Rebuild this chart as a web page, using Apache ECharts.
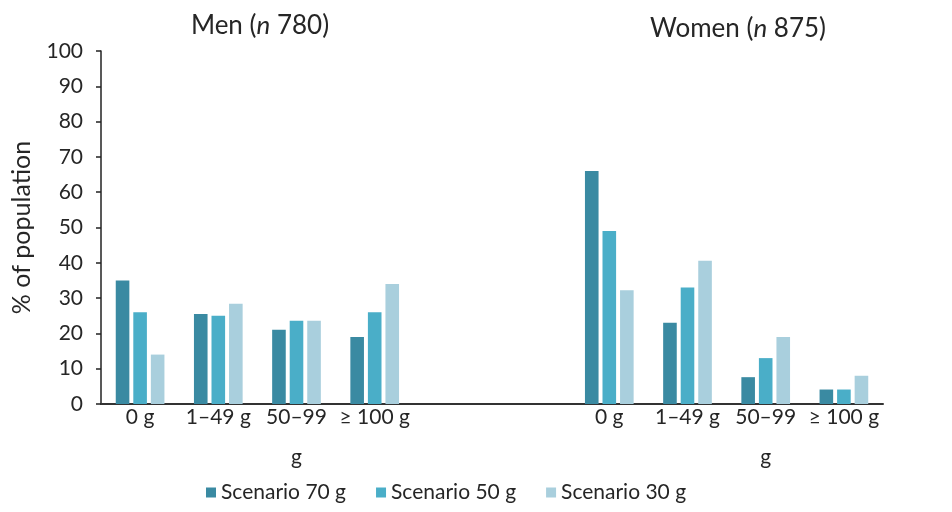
<!DOCTYPE html>
<html><head><meta charset="utf-8">
<script src="https://cdn.jsdelivr.net/npm/echarts@6/dist/echarts.min.js"></script>
<style>html,body{margin:0;padding:0;background:#fff}#c{width:952px;height:512px}</style>
</head><body><div id="c"></div>
<script>
var categories = ['0 g', '1–49 g', '50–99 g', '≥ 100 g', ' ', '  ', '0 g', '1–49 g', '50–99 g', '≥ 100 g'];
var seriesNames = ['Scenario 70 g', 'Scenario 50 g', 'Scenario 30 g'];
var scenario70 = [35, 25.5, 21, 19, null, null, 66, 23, 7.6, 4.1];
var scenario50 = [26, 25, 23.6, 26, null, null, 49, 33, 13, 4.1];
var scenario30 = [14, 28.4, 23.6, 34, null, null, 32.2, 40.6, 19, 8];
var yTicks = [0, 10, 20, 30, 40, 50, 60, 70, 80, 90, 100];
var groupTitles = ['Men', 'Women'];
var groupN = ['780', '875'];

var colors = ['#3a8aa2', '#4aaec8', '#a9cfdd'];
var font = 'Lato';
var txt = '#262626';
var chart = echarts.init(document.getElementById('c'));
var values = [scenario70, scenario50, scenario30];
function titleStyle() {
  return {fontSize: 26, fontWeight: 'normal', color: txt, fontFamily: font,
    rich: {i: {fontStyle: 'italic', fontSize: 26, color: txt, fontFamily: font}}};
}
chart.setOption({
  animation: false,
  color: colors,
  textStyle: {fontFamily: font},
  title: [
    {text: groupTitles[0] + ' ({i|n} ' + groupN[0] + ')', left: 255, top: 8, textAlign: 'center', textStyle: titleStyle()},
    {text: groupTitles[1] + ' ({i|n} ' + groupN[1] + ')', left: 733, top: 11, textAlign: 'center', textStyle: titleStyle()}
  ],
  legend: {
    data: seriesNames, bottom: 4, left: 201, icon: 'rect',
    itemWidth: 10, itemHeight: 10, itemGap: 30,
    textStyle: {fontSize: 21, color: txt, fontFamily: font}
  },
  grid: {left: 101, right: 69, top: 51, bottom: 108, containLabel: false},
  xAxis: {
    type: 'category', data: categories,
    axisLine: {lineStyle: {color: '#333', width: 2}},
    axisTick: {show: false},
    axisLabel: {fontSize: 21, color: txt, margin: 1, lineHeight: 24, interval: 0,
      rich: {g: {fontSize: 21, color: txt, fontFamily: font, lineHeight: 56}},
      formatter: function (v) { return v === '50–99 g' ? '50–99\n{g|g}' : v; }}
  },
  yAxis: {
    type: 'value', min: yTicks[0], max: yTicks[yTicks.length - 1], interval: yTicks[1] - yTicks[0],
    name: '% of population', nameLocation: 'middle', nameGap: 67,
    nameTextStyle: {fontSize: 25, color: txt, fontFamily: font},
    axisLine: {show: true, lineStyle: {color: '#222', width: 1.5}},
    axisTick: {show: true, length: 5, lineStyle: {color: '#222', width: 1.5}},
    axisLabel: {fontSize: 21, color: txt, margin: 18},
    splitLine: {show: false}
  },
  series: seriesNames.map(function (n, i) {
    return {name: n, type: 'bar', data: values[i], barWidth: 13.6, barGap: '29%'};
  })
});
</script></body></html>
